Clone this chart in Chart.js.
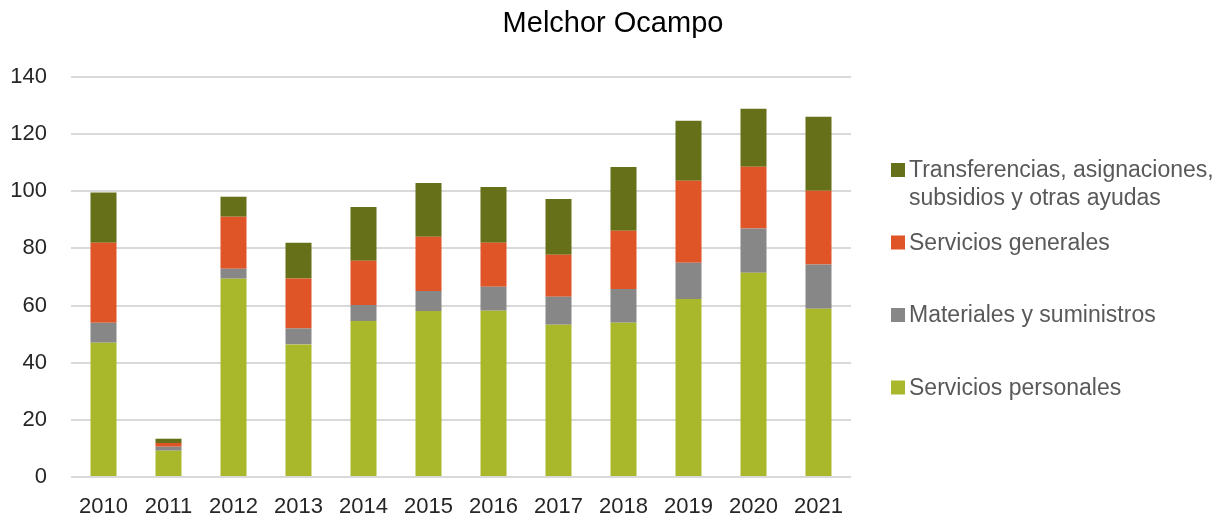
<!DOCTYPE html>
<html>
<head>
<meta charset="utf-8">
<title>Melchor Ocampo</title>
<script src="https://cdn.jsdelivr.net/npm/chart.js@4"></script>
<style>
  html, body { margin: 0; padding: 0; background: #fff; }
  #wrap { width: 1223px; height: 520px; }
</style>
</head>
<body>
<div id="wrap"><canvas id="myChart" width="1223" height="520"></canvas></div>
<script>
const years = ['2010', '2011', '2012', '2013', '2014', '2015', '2016', '2017', '2018', '2019', '2020', '2021'];

// values (stack order: bottom to top)
const serviciosPersonales = [47.0, 9.2, 69.4, 46.4, 54.6, 58.1, 58.2, 53.3, 54.0, 62.3, 71.5, 58.9];
const materiales          = [7.0, 1.4, 3.5, 5.6, 5.6, 7.0, 8.4, 9.8, 11.8, 12.7, 15.5, 15.5];
const serviciosGenerales  = [28.0, 1.3, 18.2, 17.5, 15.5, 19.0, 15.4, 14.7, 20.4, 28.7, 21.6, 25.8];
const transferencias      = [17.6, 1.5, 7.0, 12.5, 18.8, 18.8, 19.5, 19.5, 22.3, 21.0, 20.3, 25.9];

const seriesNames = [
  'Servicios personales',
  'Materiales y suministros',
  'Servicios generales',
  'Transferencias, asignaciones, subsidios y otras ayudas',
];
const seriesColors = ['#a8b82a', '#878787', '#e05527', '#667018'];
const chartTitle = 'Melchor Ocampo';

const FONT = "'Liberation Sans', Helvetica, Arial, sans-serif";

// title centred on the whole canvas + legend on the right, drawn by hand
const sideLegend = {
  id: 'sideLegend',
  afterDraw(chart) {
    const ctx = chart.ctx;
    ctx.save();
    ctx.fillStyle = '#000';
    ctx.font = '29px ' + FONT;
    ctx.textAlign = 'center';
    ctx.textBaseline = 'alphabetic';
    ctx.fillText(chartTitle, 613, 32);

    const items = chart.data.datasets.slice().reverse();
    const boxX = 891, textX = 909, maxW = 1223 - textX - 2;
    let y = 170;
    ctx.font = '23px ' + FONT;
    ctx.textBaseline = 'middle';
    ctx.textAlign = 'left';
    items.forEach(ds => {
      ctx.fillStyle = ds.backgroundColor;
      ctx.fillRect(boxX, y - 7, 14, 14);
      // wrap long labels
      const words = ds.label.split(' ');
      const lines = [];
      let cur = '';
      words.forEach(w => {
        const test = cur ? cur + ' ' + w : w;
        if (ctx.measureText(test).width > maxW && cur) {
          lines.push(cur);
          cur = w;
        } else {
          cur = test;
        }
      });
      lines.push(cur);
      ctx.fillStyle = '#595959';
      lines.forEach((ln, i) => ctx.fillText(ln, textX, y + 1 + i * 28));
      y += 72.5;
    });
    ctx.restore();
  }
};

const data = {
  labels: years,
  datasets: [serviciosPersonales, materiales, serviciosGenerales, transferencias].map((vals, i) => ({
    label: seriesNames[i],
    data: vals,
    backgroundColor: seriesColors[i],
    borderWidth: 0,
    barPercentage: 0.4,
    categoryPercentage: 1.0,
  })),
};

const config = {
  type: 'bar',
  data: data,
  options: {
    responsive: false,
    animation: false,
    layout: { padding: { left: 0, right: 372, top: 77, bottom: 0 } },
    plugins: {
      legend: { display: false },
      tooltip: { enabled: false },
      title: { display: false },
    },
    scales: {
      x: {
        stacked: true,
        grid: { display: false, drawTicks: false },
        border: { display: false },
        ticks: {
          color: '#262626',
          font: { family: FONT, size: 22 },
          padding: 17,
          maxRotation: 0,
        },
        afterFit(scale) {
          scale.paddingLeft = 0;
          scale.paddingRight = 0;
          scale.height = 43;
        },
      },
      y: {
        stacked: true,
        min: 0,
        max: 140,
        border: { display: false },
        grid: { color: '#d9d9d9', lineWidth: 2, drawTicks: false },
        ticks: {
          stepSize: 20,
          color: '#262626',
          font: { family: FONT, size: 22 },
          padding: 24,
        },
        afterFit(scale) {
          scale.width = 71;
        },
      },
    },
  },
  plugins: [sideLegend],
};

const myChart = new Chart(document.getElementById('myChart'), config);
</script>
</body>
</html>
